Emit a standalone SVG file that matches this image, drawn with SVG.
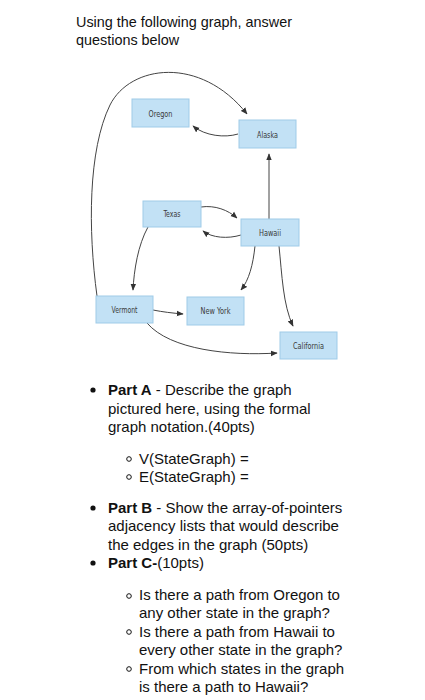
<svg xmlns="http://www.w3.org/2000/svg" width="425" height="700" viewBox="0 0 425 700">
<style>
.t{font-family:"Liberation Sans",Arial,sans-serif;font-size:15px;fill:#111}
.h{font-size:14.4px}
.b{font-weight:bold}
.n rect{fill:#c2e1f5;stroke:#9fcbe8;stroke-width:1}
.n text{font-family:"DejaVu Sans Condensed","Liberation Sans",sans-serif;font-size:9px;fill:#3a3a3a;text-anchor:middle}
.e path{fill:none;stroke:#444;stroke-width:1;marker-end:url(#ah)}
</style>
<defs>
<marker id="ah" viewBox="0 0 10 10" refX="9" refY="5" markerWidth="7" markerHeight="7" markerUnits="userSpaceOnUse" orient="auto">
<path d="M0,1 L10,5 L0,9 z" fill="#333"/>
</marker>
</defs>
<rect width="425" height="700" fill="#fff"/>
<text class="t h" x="76" y="27">Using the following graph, answer</text>
<text class="t h" x="76" y="45">questions below</text>

<g class="e" id="edges">
<path d="M97,296 C88,230 88,150 110,105 C130,65 200,55 247,114"/>
<path d="M238,134 C225,138 205,136 193,126"/>
<path d="M269,219 L269,154"/>
<path d="M201,207 C215,205 228,210 237,218"/>
<path d="M241,235 C228,239 212,238 203,231"/>
<path d="M148,227 C138,245 134,270 133,290"/>
<path d="M255,246 C253,265 249,280 241,290"/>
<path d="M279,246 C282,275 283,305 293,326"/>
<path d="M153,310 C163,312 172,313 183,314"/>
<path d="M147,323 C170,350 230,356 277,353"/>
</g>

<g class="n" id="oregon"><rect x="132" y="99" width="57" height="28"/><text x="160.5" y="116.5" textLength="24" lengthAdjust="spacingAndGlyphs">Oregon</text></g>
<g class="n" id="alaska"><rect x="239" y="120" width="57" height="28"/><text x="267.5" y="137.5" textLength="21" lengthAdjust="spacingAndGlyphs">Alaska</text></g>
<g class="n" id="texas"><rect x="143" y="201" width="58" height="26"/><text x="172" y="217" textLength="17" lengthAdjust="spacingAndGlyphs">Texas</text></g>
<g class="n" id="hawaii"><rect x="241" y="219" width="58" height="27"/><text x="270" y="235.5" textLength="22" lengthAdjust="spacingAndGlyphs">Hawaii</text></g>
<g class="n" id="vermont"><rect x="96" y="296" width="57" height="27"/><text x="124.5" y="312.5" textLength="26" lengthAdjust="spacingAndGlyphs">Vermont</text></g>
<g class="n" id="newyork"><rect x="187" y="297" width="57" height="28"/><text x="215.5" y="314" textLength="30" lengthAdjust="spacingAndGlyphs">New York</text></g>
<g class="n" id="california"><rect x="280" y="332" width="57" height="27"/><text x="308.5" y="348.5" textLength="31" lengthAdjust="spacingAndGlyphs">California</text></g>

<g id="text">
<circle cx="93" cy="390" r="2.6" fill="#111"/>
<text class="t" x="108" y="395"><tspan class="b">Part A</tspan> - Describe the graph</text>
<text class="t" x="108" y="413.5">pictured here, using the formal</text>
<text class="t" x="108" y="432">graph notation.(40pts)</text>
<circle cx="129" cy="459" r="2.3" fill="none" stroke="#111" stroke-width="1"/>
<text class="t" x="139" y="463.5">V(StateGraph) =</text>
<circle cx="129" cy="477" r="2.3" fill="none" stroke="#111" stroke-width="1"/>
<text class="t" x="139" y="481.5">E(StateGraph) =</text>
<circle cx="93" cy="508" r="2.6" fill="#111"/>
<text class="t" x="108" y="512.5"><tspan class="b">Part B</tspan> - Show the array-of-pointers</text>
<text class="t" x="108" y="531">adjacency lists that would describe</text>
<text class="t" x="108" y="549.5">the edges in the graph (50pts)</text>
<circle cx="93" cy="563" r="2.6" fill="#111"/>
<text class="t" x="108" y="568"><tspan class="b">Part C-</tspan>(10pts)</text>
<circle cx="129" cy="596" r="2.3" fill="none" stroke="#111" stroke-width="1"/>
<text class="t" x="139" y="599.5">Is there a path from Oregon to</text>
<text class="t" x="139" y="618">any other state in the graph?</text>
<circle cx="129" cy="632" r="2.3" fill="none" stroke="#111" stroke-width="1"/>
<text class="t" x="139" y="636.5">Is there a path from Hawaii to</text>
<text class="t" x="139" y="655">every other state in the graph?</text>
<circle cx="129" cy="669" r="2.3" fill="none" stroke="#111" stroke-width="1"/>
<text class="t" x="139" y="673.5">From which states in the graph</text>
<text class="t" x="139" y="692">is there a path to Hawaii?</text>
</g>
</svg>
